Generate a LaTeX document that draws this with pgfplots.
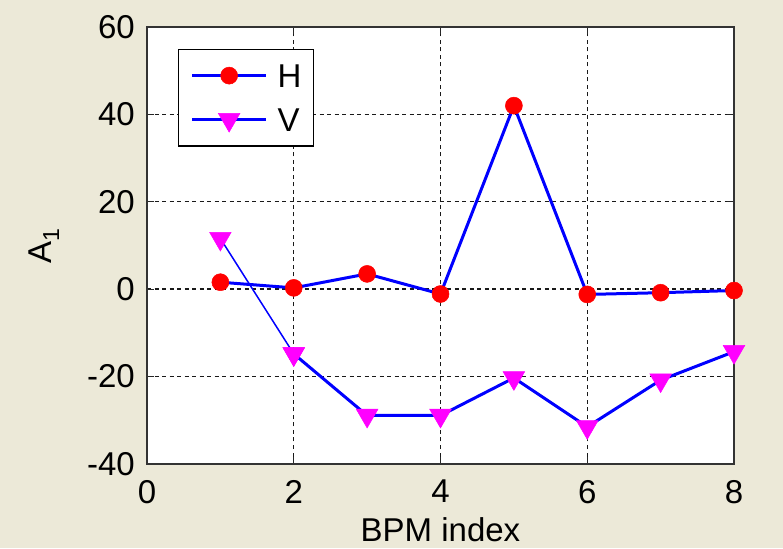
\documentclass[border=0pt]{standalone}
\usepackage{fontspec}
\setmainfont{Liberation Sans}
\usepackage{pgfplots}
\pgfplotsset{compat=1.18}
\definecolor{figbg}{RGB}{236,233,216}
\definecolor{hline}{RGB}{0,0,255}
\definecolor{vmark}{RGB}{255,0,255}
\newcommand{\figfont}{\fontsize{33}{38}\selectfont}

\begin{document}
\begin{tikzpicture}[x=1pt,y=1pt]
  % figure background
  \fill[figbg] (0,0) rectangle (783,548);
  \useasboundingbox (0,0) rectangle (783,548);
  \begin{axis}[
    at={(147pt,84pt)}, anchor=south west,
    scale only axis, width=587pt, height=437pt,
    xmin=0, xmax=8, ymin=-40, ymax=60,
    xtick={0,2,4,6,8}, xticklabels={0,2,4,6,8},
    ytick={-40,-20,0,20,40,60}, yticklabels={-40,-20,0,20,40,60},
    axis background/.style={fill=white},
    axis line style={line width=1.4pt, black!80},
    tick style={line width=1.2pt, black!85},
    tick align=inside, tick pos=both, major tick length=7pt,
    grid=major,
    major grid style={line width=1.4pt, black!90, dash pattern=on 4pt off 3.5pt},
    every tick label/.append style={font=\figfont},
    yticklabel style={inner sep=0pt, xshift=-12pt},
    xticklabel style={inner sep=0pt, yshift=-16pt},
    xlabel={BPM index},
    ylabel={A\textsubscript{1}},
    label style={font=\figfont},
    xlabel style={inner sep=0pt, at={(axis description cs:0.5,-0.178)}, anchor=base},
    ylabel style={inner sep=0pt, at={(axis description cs:-0.162,0.5)}, anchor=base},
    legend style={
      at={(0.0528,0.9497)}, anchor=north west,
      draw=black, line width=1.3pt, fill=white,
      font=\figfont,
      inner xsep=12pt, inner ysep=14pt, row sep=20pt,
      /tikz/column sep=10pt,
      nodes={inner sep=0pt, text height=24pt, text depth=0pt},
      cells={anchor=west},
    },
    legend image code/.code={%
      \draw[#1, mark repeat=2, mark phase=2]
        plot coordinates {(0pt,0pt) (37pt,0pt) (74pt,0pt)};},
  ]
    % horizontal plane
    \addplot[hline, line width=3pt,
      mark=*, mark size=8.5pt, mark options={solid, fill=red, draw=red, line width=0.5pt}]
      coordinates {(1,1.6) (2,0.3) (3,3.5) (4,-1.1) (5,42.0) (6,-1.2) (7,-0.8) (8,-0.3)};
    \addlegendentry{H}
    % vertical plane: first segment drawn thin
    \addplot[hline, line width=1.5pt, forget plot,
      mark=triangle*, mark size=12.5pt, mark options={solid, rotate=180, fill=vmark, draw=vmark, line width=0.5pt}]
      coordinates {(1,11.6) (2,-14.8)};
    \addplot[hline, line width=3pt,
      mark=triangle*, mark size=12.5pt, mark options={solid, rotate=180, fill=vmark, draw=vmark, line width=0.5pt}]
      coordinates {(2,-14.8) (3,-28.9) (4,-28.9) (5,-20.3) (6,-31.5) (7,-20.8) (8,-14.3)};
    \addlegendentry{V}
  \end{axis}
\end{tikzpicture}
\end{document}
